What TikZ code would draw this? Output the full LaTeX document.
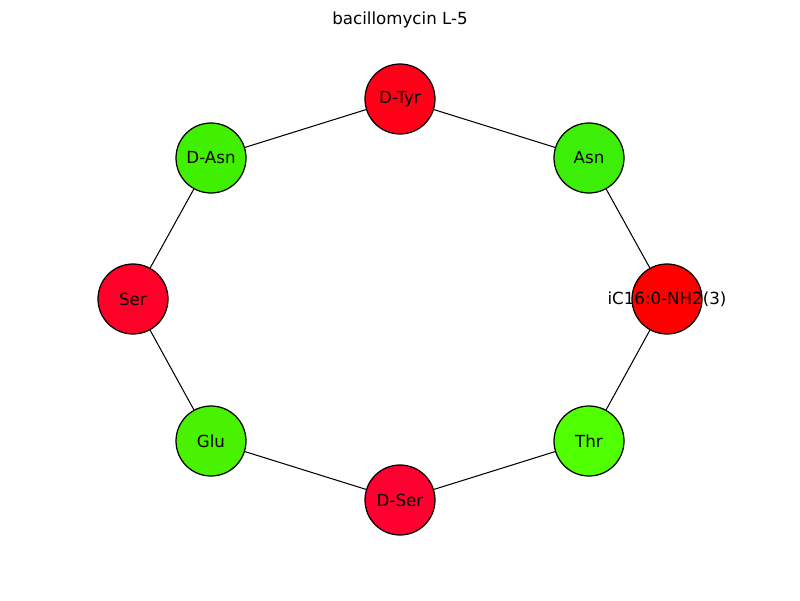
\documentclass[tikz,border=0pt]{standalone}
\usepackage{fontspec}
\setmainfont{DejaVu Sans}
\begin{document}
\begin{tikzpicture}[x=0.72pt,y=-0.72pt,
  res/.style={circle,draw=black,line width=0.9pt,minimum size=50.4pt,inner sep=0pt,fill=#1},
  lab/.style={font=\fontsize{12}{14}\selectfont,text=black},
  edge/.style={draw=black,line width=0.75pt}]
\useasboundingbox (0,0) rectangle (800,600);
\definecolor{cTyr}{HTML}{FF0018}
\definecolor{cAsn}{HTML}{3CEE08}
\definecolor{cIC}{HTML}{FF0000}
\definecolor{cThr}{HTML}{50FF00}
\definecolor{cDSer}{HTML}{FF0030}
\definecolor{cGlu}{HTML}{48F200}
\definecolor{cSer}{HTML}{FF0028}
\definecolor{cDAsn}{HTML}{40F000}
\node[lab] (title) at (400,20) {bacillomycin L-5};
\node[res=cTyr] (tyr) at (400,99) {};
\node[res=cAsn] (asn) at (589,158) {};
\node[res=cIC] (ic) at (667,299) {};
\node[res=cThr] (thr) at (589,441) {};
\node[res=cDSer] (dser) at (400,500) {};
\node[res=cGlu] (glu) at (211,441) {};
\node[res=cSer] (ser) at (133,299) {};
\node[res=cDAsn] (dasn) at (211,158) {};
\begin{scope}[on background layer/.style={}]
\draw[edge] (tyr) -- (asn);
\draw[edge] (asn) -- (ic);
\draw[edge] (ic) -- (thr);
\draw[edge] (thr) -- (dser);
\draw[edge] (dser) -- (glu);
\draw[edge] (glu) -- (ser);
\draw[edge] (ser) -- (dasn);
\draw[edge] (dasn) -- (tyr);
\end{scope}
\node[lab] (ltyr) at (tyr) {D-Tyr};
\node[lab] (lasn) at (asn) {Asn};
\node[lab] (lic) at (ic) {iC16:0-NH2(3)};
\node[lab] (lthr) at (thr) {Thr};
\node[lab] (ldser) at (dser) {D-Ser};
\node[lab] (lglu) at (glu) {Glu};
\node[lab] (lser) at (ser) {Ser};
\node[lab] (ldasn) at (dasn) {D-Asn};
\end{tikzpicture}
\end{document}
